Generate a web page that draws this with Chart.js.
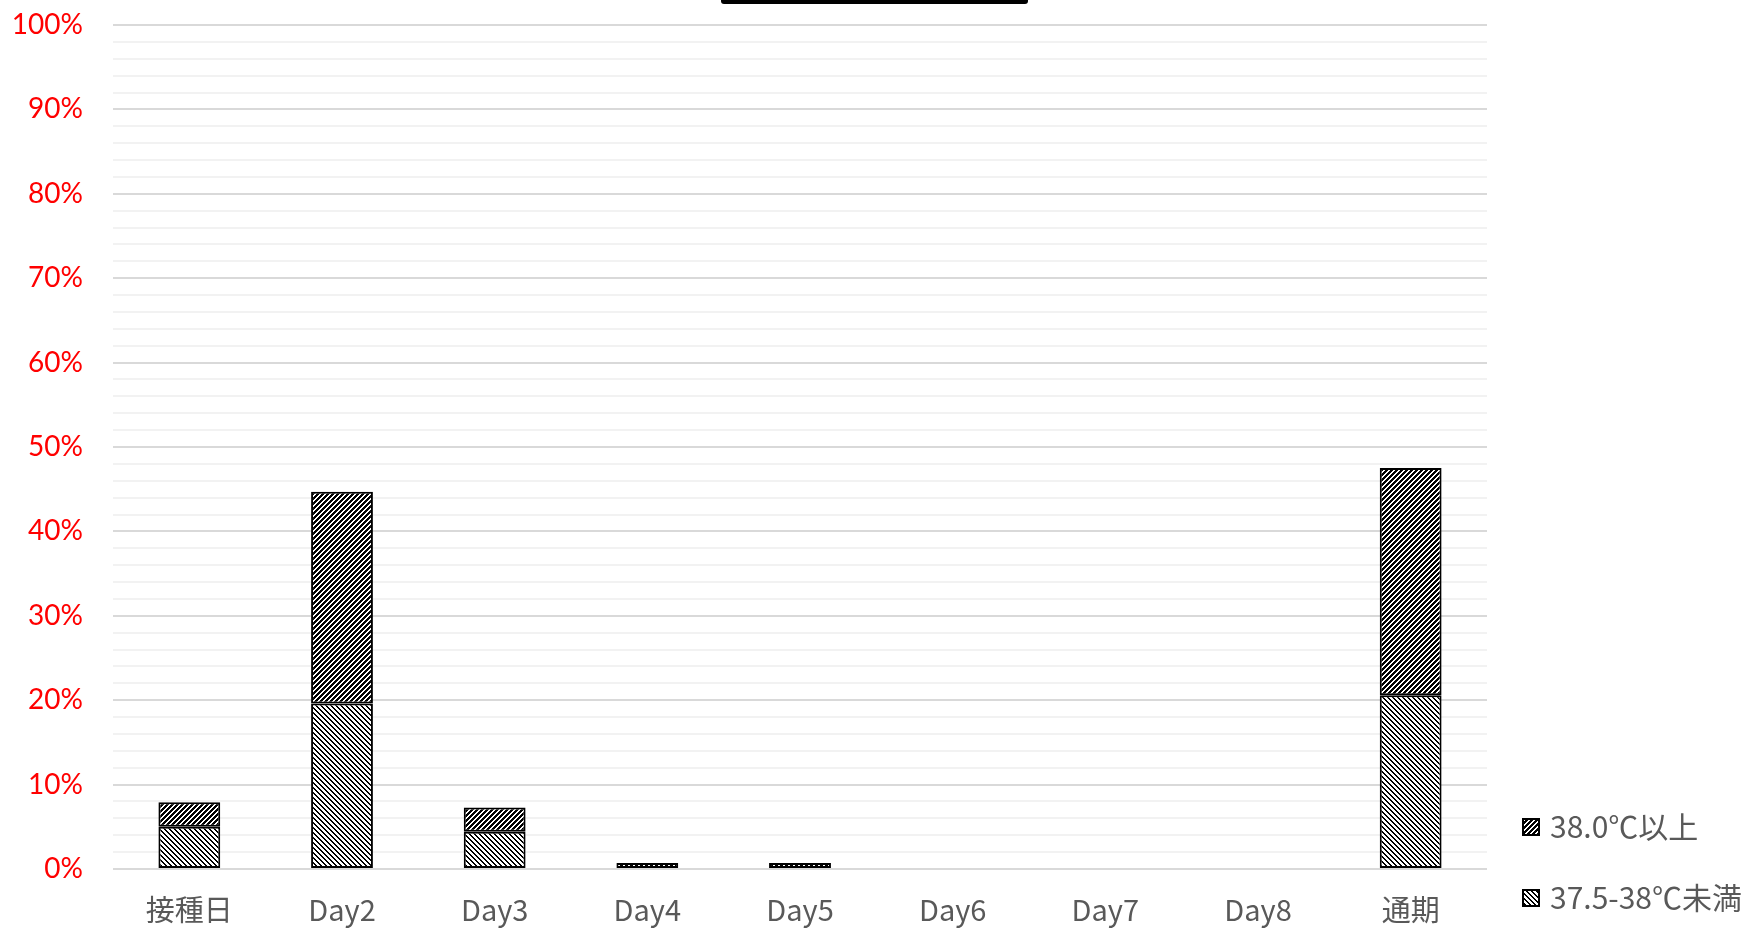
<!DOCTYPE html>
<html lang="ja">
<head>
<meta charset="utf-8">
<title>発熱の割合</title>
<script src="https://cdn.jsdelivr.net/npm/chart.js@4.4.1/dist/chart.umd.min.js"></script>
<style>
  html, body { margin: 0; padding: 0; background: #fff; }
  #wrap { position: relative; width: 1747px; height: 928px; overflow: hidden; }
</style>
</head>
<body>
<div id="wrap">
  <canvas id="feverChart" width="1747" height="928"></canvas>
</div>
<script>
const categories = ['接種日', 'Day2', 'Day3', 'Day4', 'Day5', 'Day6', 'Day7', 'Day8', '通期'];
const seriesLabels = ['37.5-38℃未満', '38.0℃以上'];
// valores en %
const fiebreBaja = [5.0, 19.6, 4.4, 0, 0, 0, 0, 0, 20.6];
const fiebreAlta = [2.9, 25.1, 2.9, 0.7, 0.7, 0, 0, 0, 26.9];
const yTicks = [0, 10, 20, 30, 40, 50, 60, 70, 80, 90, 100];

// patrones de rayas tipo Excel
function makePattern(size, isInk) {
    const c = document.createElement('canvas');
    c.width = size;
    c.height = size;
    const g = c.getContext('2d');
    g.fillStyle = '#fff';
    g.fillRect(0, 0, size, size);
    g.fillStyle = '#000';
    for (let x = 0; x < size; x++) {
        for (let y = 0; y < size; y++) {
            if (isInk(x, y)) g.fillRect(x, y, 1, 1);
        }
    }
    return g.createPattern(c, 'repeat');
}

const rayasOscuras = makePattern(5, (x, y) => (x + y) % 5 < 3);      // "/"
const rayasClaras = makePattern(5, (x, y) => ((x - y + 10) % 5) < 2); // "\"

const leyendaPlugin = {
    id: 'leyendaDerecha',
    afterDraw(chart) {
        const ctx = chart.ctx;
        ctx.save();
        // borde inferior del cuadro de título (cortado arriba)
        ctx.fillStyle = '#000';
        ctx.beginPath();
        ctx.roundRect(721, -10, 307, 14, 3);
        ctx.fill();

        const items = [
            { text: seriesLabels[1], fill: rayasOscuras, y: 827 },
            { text: seriesLabels[0], fill: rayasClaras, y: 898 }
        ];
        ctx.font = '30px "Noto Sans CJK JP"';
        ctx.textBaseline = 'middle';
        items.forEach(item => {
            ctx.fillStyle = '#000';
            ctx.fillRect(1522, item.y - 9, 18, 18);
            ctx.fillStyle = item.fill;
            ctx.fillRect(1524, item.y - 7, 14, 14);
            ctx.fillStyle = '#595959';
            ctx.fillText(item.text, 1550, item.y);
        });
        ctx.restore();
    }
};

const data = {
    labels: categories,
    datasets: [
        {
            label: seriesLabels[0],
            data: fiebreBaja,
            backgroundColor: rayasClaras,
            borderColor: '#000',
            borderWidth: 2,
            borderSkipped: false,
            barPercentage: 0.405,
            categoryPercentage: 1.0
        },
        {
            label: seriesLabels[1],
            data: fiebreAlta,
            backgroundColor: rayasOscuras,
            borderColor: '#000',
            borderWidth: 2,
            borderSkipped: false,
            barPercentage: 0.405,
            categoryPercentage: 1.0
        }
    ]
};

const config = {
    type: 'bar',
    data: data,
    options: {
        responsive: false,
        animation: false,
        devicePixelRatio: 1,
        layout: { padding: { top: 25, right: 260, left: 0, bottom: 0 } },
        plugins: {
            legend: { display: false },
            tooltip: { enabled: false }
        },
        scales: {
            x: {
                stacked: true,
                grid: { display: false },
                border: { display: false },
                ticks: {
                    color: '#595959',
                    font: { family: '"Noto Sans CJK JP"', size: 29 },
                    padding: 16,
                    maxRotation: 0
                },
                afterFit: function(scale) { scale.height = 59; }
            },
            y: {
                stacked: true,
                min: 0,
                max: 100,
                border: { display: false },
                grid: {
                    drawTicks: false,
                    lineWidth: 2,
                    color: c => (c.tick && Math.round(c.tick.value) % 10 === 0) ? '#d9d9d9' : '#f2f2f2'
                },
                ticks: {
                    stepSize: 2,
                    maxTicksLimit: 60,
                    autoSkip: false,
                    color: '#ff0000',
                    padding: 30,
                    font: { family: 'Lato', size: 28 },
                    callback: value => yTicks.includes(Math.round(value)) ? Math.round(value) + '%' : ''
                },
                afterFit: function(scale) {
                    scale.width = 113;
                    // sin margen extra arriba/abajo por las etiquetas
                    scale.paddingTop = 0;
                    scale.paddingBottom = 0;
                }
            }
        }
    },
    plugins: [leyendaPlugin]
};

window.onload = function() {
    const ctx = document.getElementById('feverChart').getContext('2d');
    new Chart(ctx, config);
};
</script>
</body>
</html>
